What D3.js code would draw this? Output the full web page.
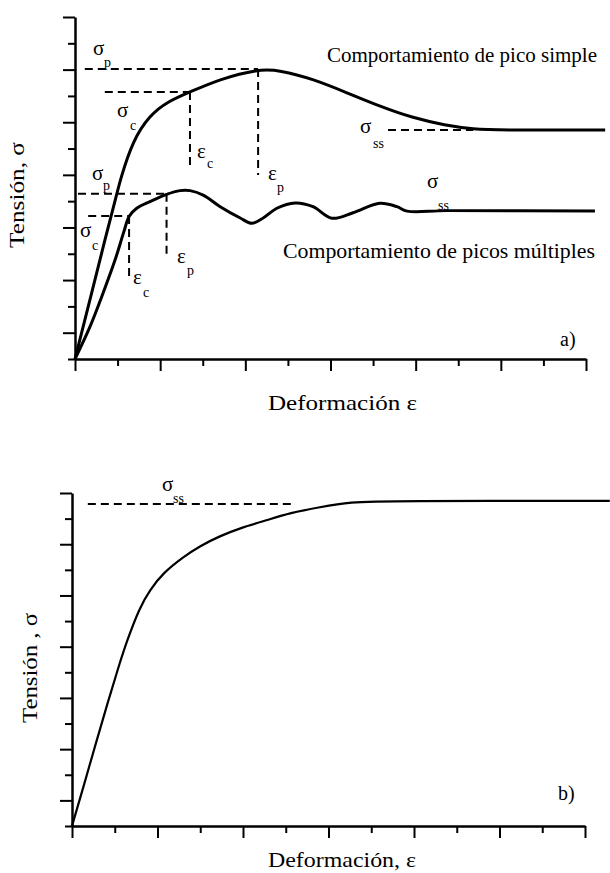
<!DOCTYPE html>
<html>
<head>
<meta charset="utf-8">
<script src="https://cdn.jsdelivr.net/npm/d3@7"></script>
<style>
  body { margin: 0; background: #fff; }
  text { font-family: "Liberation Serif", "Times New Roman", Times, serif; }
</style>
</head>
<body>
<svg id="chart" width="610" height="873"></svg>
<script>
// ======= DATA (in tick units along each axis) =======

const xTickValues = d3.range(0, 13);   // 12 intervals on strain axis
const yTickValues = d3.range(0, 14);   // 13 intervals on stress axis

// a) single peak behaviour
const singlePeak = [
  [0, 0], [0.35, 2.24], [0.7, 4.52], [0.99, 6.31], [1.06, 6.8], [1.36, 8.32],
  [1.76, 9.27], [2.16, 9.77], [2.7, 10.15], [3.4, 10.64], [4.3, 11.02],
  [4.8, 10.98], [5.6, 10.64], [6.4, 10.11], [7.2, 9.58], [7.9, 9.18],
  [8.7, 8.88], [9.35, 8.74], [10.0, 8.7], [12.45, 8.7]
];

// a) multiple peaks behaviour
const multiPeak = [
  [0, 0], [0.35, 1.22], [0.66, 2.51], [0.94, 3.76], [1.15, 4.85], [1.27, 5.42],
  [1.45, 5.73], [1.76, 5.98], [2.15, 6.26], [2.47, 6.4], [2.7, 6.4], [3.01, 6.23],
  [3.41, 5.79], [3.88, 5.36], [4.15, 5.16], [4.42, 5.36], [4.74, 5.73], [5.17, 5.93],
  [5.59, 5.79], [6.03, 5.35], [6.53, 5.56], [7.16, 5.92], [7.56, 5.79], [7.8, 5.62],
  [8.73, 5.64], [12.21, 5.63]
];

// b) dynamic recovery only
const recoveryCurve = [
  [0, 0], [0.28, 1.6], [0.56, 3.24], [0.84, 4.84], [1.08, 6.17], [1.29, 7.26],
  [1.59, 8.55], [1.82, 9.21], [2.13, 9.88], [2.6, 10.5], [2.99, 10.93], [3.46, 11.32],
  [3.93, 11.63], [4.56, 11.94], [5.1, 12.22], [5.8, 12.45], [6.5, 12.65],
  [7.44, 12.69], [12.58, 12.69]
];

// dashed guide segments [x1, y1, x2, y2]
const guidesA = [
  [0.23, 11.02, 4.3, 11.02], [4.3, 11.02, 4.3, 6.99],     // sigma_p, eps_p (single)
  [0.7, 10.15, 2.7, 10.15], [2.7, 10.15, 2.7, 7.26],      // sigma_c, eps_c (single)
  [7.35, 8.7, 9.35, 8.7],                                 // sigma_ss (single)
  [0.07, 6.28, 2.15, 6.28], [2.15, 6.28, 2.15, 3.88],     // sigma_p, eps_p (multi)
  [0.31, 5.44, 1.27, 5.44], [1.27, 5.44, 1.27, 3.12]      // sigma_c, eps_c (multi)
];
const guidesB = [
  [0.37, 12.57, 5.22, 12.57]                              // sigma_ss
];

// ======= SETUP =======

const svg = d3.select("#chart");

const panelA = {
  x: d3.scaleLinear().domain([0, 12]).range([75, 586]),
  y: d3.scaleLinear().domain([0, 13]).range([359, 17])
};
const panelB = {
  x: d3.scaleLinear().domain([0, 12]).range([72, 585]),
  y: d3.scaleLinear().domain([0, 13]).range([826, 493])
};

function drawAxes(p) {
  const gx = svg.append("g")
    .attr("transform", `translate(0,${p.y(0)})`)
    .call(d3.axisBottom(p.x).tickValues(xTickValues).tickSize(12).tickSizeOuter(0).tickFormat(""));
  gx.selectAll(".tick line").attr("y2", d => d % 2 === 0 ? 12 : 7);

  const gy = svg.append("g")
    .attr("transform", `translate(${p.x(0)},0)`)
    .call(d3.axisLeft(p.y).tickValues(yTickValues).tickSize(12).tickSizeOuter(0).tickFormat(""));
  gy.selectAll(".tick line").attr("x2", d => d % 2 === 1 ? -12 : -7);

  [gx, gy].forEach(g => {
    g.select(".domain").attr("stroke", "#000").attr("stroke-width", 2.5);
    g.selectAll(".tick line").attr("stroke", "#000").attr("stroke-width", 2);
  });
}

function drawCurve(p, data, width, curve) {
  const line = d3.line()
    .x(d => p.x(d[0]))
    .y(d => p.y(d[1]))
    .curve(curve);
  svg.append("path")
    .datum(data)
    .attr("d", line)
    .attr("fill", "none")
    .attr("stroke", "#000")
    .attr("stroke-width", width)
    .attr("stroke-linejoin", "round");
}

function drawGuides(p, segs) {
  svg.append("g").selectAll("line")
    .data(segs)
    .join("line")
    .attr("x1", d => p.x(d[0]))
    .attr("y1", d => p.y(d[1]))
    .attr("x2", d => p.x(d[2]))
    .attr("y2", d => p.y(d[3]))
    .attr("stroke", "#000")
    .attr("stroke-width", 2)
    .attr("stroke-dasharray", "8,5");
}

// symbol with subscript, e.g. sigma_p
function symbol(x, y, main, sub, sx, sy) {
  const t = svg.append("text").attr("fill", "#000");
  t.append("tspan").attr("x", x).attr("y", y).attr("font-size", 21).text(main);
  t.append("tspan").attr("x", sx).attr("y", sy).attr("font-size", 14).text(sub);
}

function label(x, y, txt, size, len) {
  const t = svg.append("text")
    .attr("x", x).attr("y", y)
    .attr("font-size", size)
    .attr("fill", "#000")
    .text(txt);
  if (len) t.attr("textLength", len).attr("lengthAdjust", "spacingAndGlyphs");
  return t;
}

function vlabel(x, y, txt, size, len) {
  svg.append("text")
    .attr("transform", `translate(${x},${y}) rotate(-90)`)
    .attr("font-size", size)
    .attr("fill", "#000")
    .attr("textLength", len)
    .attr("lengthAdjust", "spacingAndGlyphs")
    .text(txt);
}

// ======= PANEL a) =======

drawGuides(panelA, guidesA);
drawCurve(panelA, singlePeak, 3, d3.curveBasis);
drawCurve(panelA, multiPeak, 3, d3.curveCatmullRom.alpha(0.5));
drawAxes(panelA);

symbol(93, 55, "σ", "p", 104, 67);
symbol(117, 117, "σ", "c", 130, 130);
symbol(197, 158, "ε", "c", 207, 168);
symbol(268, 180, "ε", "p", 277, 192);
symbol(360, 133, "σ", "ss", 373, 148);
symbol(92, 180, "σ", "p", 103, 190);
symbol(80, 237, "σ", "c", 92, 250);
symbol(133, 284, "ε", "c", 143, 297);
symbol(177, 263, "ε", "p", 187, 275);
symbol(427, 188, "σ", "ss", 438, 210);

label(327, 62, "Comportamiento de pico simple", 21, 270);
label(283, 258, "Comportamiento de picos múltiples", 21, 312);
label(560, 346, "a)", 20);
label(268, 410, "Deformación ε", 21, 149);
vlabel(24, 248, "Tensión, σ", 21, 106);

// ======= PANEL b) =======

drawGuides(panelB, guidesB);
drawCurve(panelB, recoveryCurve, 2.2, d3.curveBasis);
drawAxes(panelB);

symbol(162, 491, "σ", "ss", 173, 503);

label(558, 800, "b)", 20);
label(268, 867, "Deformación, ε", 21, 148);
vlabel(37, 723, "Tensión , σ", 21, 110);
</script>
</body>
</html>
